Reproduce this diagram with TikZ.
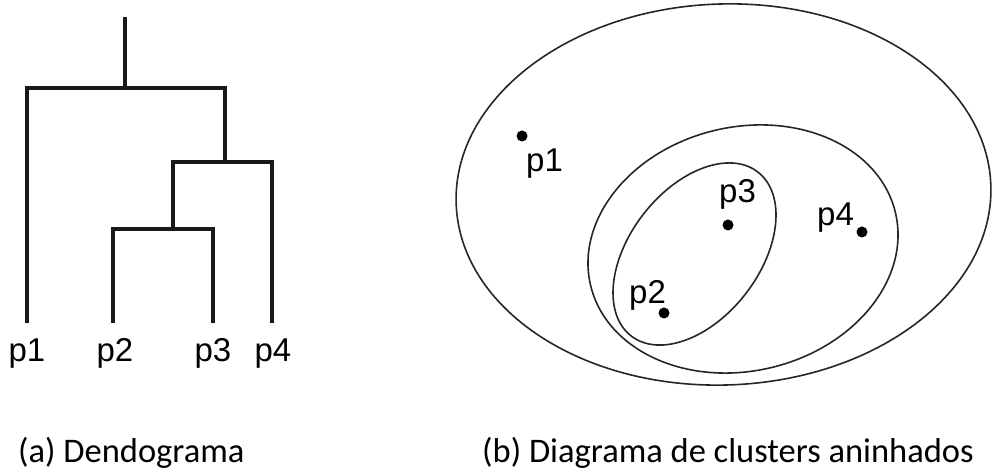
\documentclass[tikz,border=0pt]{standalone}
\usepackage{fontspec}
\setmainfont{Liberation Sans}
\newfontfamily\capfont{Carlito}
\begin{document}
\begin{tikzpicture}[x=1pt,y=1pt,
  tree/.style={line width=3.5pt, line join=miter, color=black!90},
  clus/.style={line width=1.6pt, color=black!85},
  lbl/.style={font=\fontsize{33}{33}\selectfont, inner sep=0pt},
  captext/.style={font=\capfont\fontsize{34.5}{34.5}\selectfont, inner sep=0pt, anchor=base west},
  pt/.style={circle, fill=black, inner sep=0pt, minimum size=11pt}]
\useasboundingbox (0,0) rectangle (992,470);
% ---- dendrogram ----
\coordinate (l1) at (27,147);
\coordinate (l2) at (113,147);
\coordinate (l3) at (213,147);
\coordinate (l4) at (272,147);
\coordinate (m23) at (173,241);
\coordinate (m234) at (225,308);
\coordinate (root) at (125,382);
\coordinate (top) at (125,453);
\draw[tree] (l2) |- (l3 |- m23) -- (l3);
\draw[tree] (m23) |- (l4 |- m234) -- (l4);
\draw[tree] (m23 |- m234) -- (m23);
\draw[tree] (l1) |- (m234 |- root) -- (m234);
\draw[tree] (top) -- (root);
\node[lbl, anchor=base] (t1) at (27,108) {p1};
\node[lbl, anchor=base] (t2) at (115,108) {p2};
\node[lbl, anchor=base] (t3) at (213,108) {p3};
\node[lbl, anchor=base] (t4) at (273,108) {p4};
% ---- nested clusters ----
\draw[clus] (723.5,275.5) ellipse [x radius=267.5, y radius=190.5, rotate=2];
\draw[clus] (743,221) ellipse [x radius=156.7, y radius=121.9, rotate=13.5];
\draw[clus] (694.5,216) ellipse [x radius=103.6, y radius=64.8, rotate=52.3];
\node[pt] (d1) at (522,334) {};
\node[pt] (d2) at (664,157) {};
\node[pt] (d3) at (728,245) {};
\node[pt] (d4) at (862,238) {};
\node[lbl, anchor=base west] (q1) at (526,298) {p1};
\node[lbl, anchor=base west] (q2) at (629,166) {p2};
\node[lbl, anchor=base west] (q3) at (719,267) {p3};
\node[lbl, anchor=base west] (q4) at (817,244) {p4};
% ---- captions ----
\node[captext] (ca) at (18,7) {(a) Dendograma};
\node[captext] (cb) at (482,7) {(b) Diagrama de clusters aninhados};
\end{tikzpicture}
\end{document}
